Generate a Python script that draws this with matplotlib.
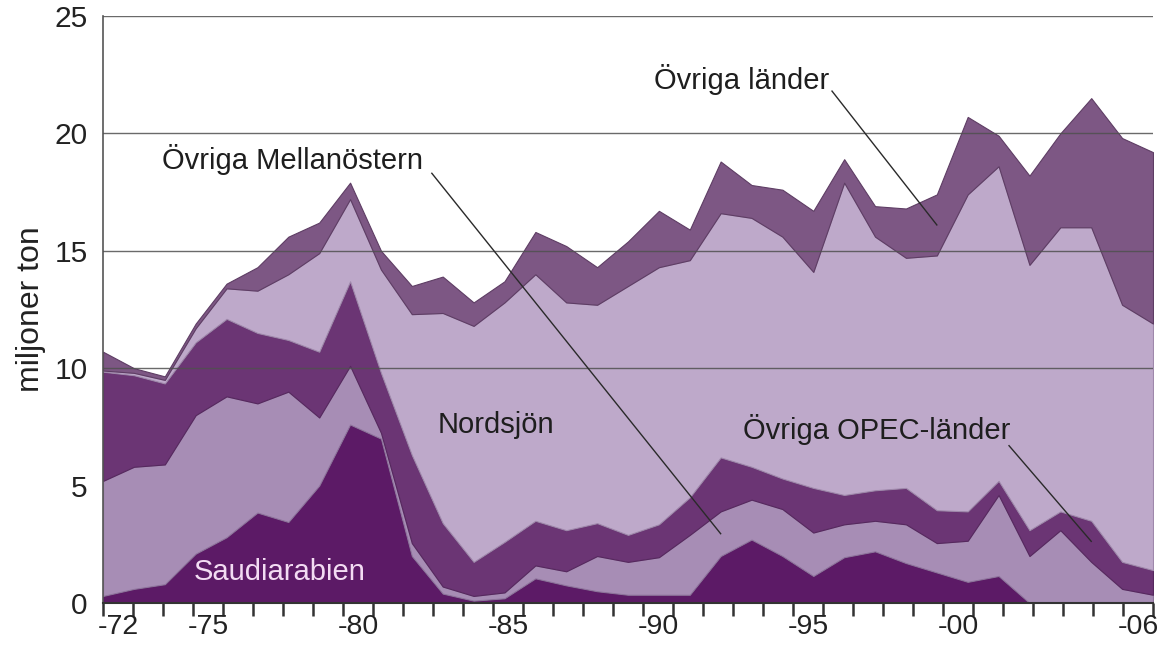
import numpy as np
import matplotlib
matplotlib.use("Agg")
import matplotlib.pyplot as plt

plt.rcParams['font.family'] = ['Liberation Sans', 'DejaVu Sans']

# Import av råolja per ursprung, miljoner ton
years = list(range(1972, 2007))
saudi = [0.3, 0.6, 0.8, 2.1, 2.8, 3.85, 3.45, 5.0, 7.6, 7.0,
         2.0, 0.4, 0.1, 0.2, 1.05, 0.75, 0.5, 0.35, 0.35, 0.35,
         2.0, 2.7, 2.0, 1.15, 1.95, 2.2, 1.7, 1.3, 0.9, 1.15,
         0.0, 0.0, 0.0, 0.0, 0.0]
mellanostern = [4.9, 5.2, 5.1, 5.9, 6.0, 4.65, 5.55, 2.9, 2.5, 0.25,
                0.55, 0.3, 0.2, 0.25, 0.55, 0.6, 1.5, 1.4, 1.6, 2.55,
                1.9, 1.7, 2.0, 1.85, 1.4, 1.3, 1.65, 1.25, 1.75, 3.45,
                2.0, 3.1, 1.75, 0.6, 0.35]
opec = [4.65, 3.9, 3.45, 3.1, 3.3, 3.0, 2.2, 2.8, 3.6, 2.55,
        3.75, 2.7, 1.45, 2.15, 1.9, 1.75, 1.4, 1.15, 1.4, 1.6,
        2.3, 1.4, 1.3, 1.9, 1.25, 1.3, 1.55, 1.4, 1.25, 0.6,
        1.1, 0.8, 1.75, 1.15, 1.05]
nordsjon = [0.05, 0.1, 0.15, 0.6, 1.3, 1.8, 2.8, 4.2, 3.5, 4.4,
            6.0, 8.95, 10.05, 10.2, 10.5, 9.7, 9.3, 10.6, 10.95, 10.1,
            10.4, 10.6, 10.3, 9.2, 13.3, 10.8, 9.8, 10.85, 13.5, 13.4,
            11.3, 12.1, 12.5, 10.95, 10.5]
ovriga = [0.8, 0.2, 0.15, 0.2, 0.2, 1.0, 1.6, 1.3, 0.7, 0.8,
          1.2, 1.55, 1.0, 0.9, 1.8, 2.4, 1.6, 1.9, 2.4, 1.3,
          2.2, 1.4, 2.0, 2.6, 1.0, 1.3, 2.1, 2.6, 3.3, 1.3,
          3.8, 4.0, 5.5, 7.1, 7.3]

series_names = ['Saudiarabien', 'Övriga Mellanöstern', 'Övriga OPEC-länder',
                'Nordsjön', 'Övriga länder']
colors = ['#5c1a66', '#a78db5', '#6b3574', '#bea9ca', '#7d5784']
edges = ['#4a1252', '#8e749c', '#56285e', '#9f88ab', '#5e3d64']

tick_years = [1972, 1975, 1980, 1985, 1990, 1995, 2000, 2006]
tick_labels = ['-72', '-75', '-80', '-85', '-90', '-95', '-00', '-06']

n = len(years)
# punkterna sprids över hela bredden, etiketterna centreras i varje årsfack
x = np.arange(n) * n / (n - 1)

fig = plt.figure(figsize=(11.63, 6.46), dpi=100)
ax = fig.add_axes([0.0886, 0.0666, 0.9028, 0.9087])

layers = [saudi, mellanostern, opec, nordsjon, ovriga]
polys = ax.stackplot(x, layers, colors=colors, labels=series_names, zorder=1)
for p, ec in zip(polys, edges):
    p.set_edgecolor(ec)
    p.set_linewidth(0.8)

ax.set_xlim(0, n)
ax.set_ylim(0, 25)

# y-axel
ax.set_yticks(np.arange(0, 26, 5))
ax.tick_params(axis='y', length=0, pad=11, labelsize=21.5, labelcolor='#222222')
ax.yaxis.grid(True, color='#505050', linewidth=1.0, alpha=0.85)
for gl, val in zip(ax.get_ygridlines(), np.arange(0, 26, 5)):
    if val < 10:
        gl.set_visible(False)
ax.set_axisbelow(False)
ax.set_ylabel('miljoner ton', fontsize=23, color='#222222', labelpad=6)

# x-axel: streck mellan åren, etiketter i mitten av varje år
ax.set_xticks(np.arange(n + 1))
ax.set_xticklabels([])
ax.tick_params(axis='x', which='major', direction='out', length=9.5,
               width=1.8, color='#333333')
ax.set_xticks([y - years[0] + 0.5 for y in tick_years], minor=True)
ax.set_xticklabels(tick_labels, minor=True)
ax.tick_params(axis='x', which='minor', length=0, pad=8, labelsize=20.5,
               labelcolor='#222222')

for side in ['top', 'right']:
    ax.spines[side].set_visible(False)
ax.spines['left'].set_color('#555555')
ax.spines['left'].set_linewidth(1.2)
ax.spines['bottom'].set_color('#333333')
ax.spines['bottom'].set_linewidth(1.5)

# serieetiketter med hänvisningslinjer
cum = np.cumsum(np.array(layers), axis=0)


def band_mid(layer, year):
    i = years.index(year)
    lower = cum[layer - 1][i] if layer > 0 else 0.0
    return x[i], (lower + cum[layer][i]) / 2


txt = dict(fontsize=21, color='#1e1e1e', ha='center', va='center')
ax.text(21.3, 22.3, 'Övriga länder', **txt)
ax.text(6.3, 18.9, 'Övriga Mellanöstern', **txt)
ax.text(13.1, 7.6, 'Nordsjön', **txt)
ax.text(25.8, 7.4, 'Övriga OPEC-länder', **txt)
ax.text(5.9, 1.3, 'Saudiarabien', fontsize=21, color='#f3dcf3',
        ha='center', va='center')

leaders = [((24.3, 21.8), band_mid(4, 1999)),
           ((10.96, 18.3), band_mid(1, 1992)),
           ((30.2, 6.7), band_mid(2, 2004))]
for (x0, y0), (x1, y1) in leaders:
    ax.plot([x0, x1], [y0, y1], color='#2a2a2a', linewidth=1.0, zorder=3)

fig.savefig('out.png', dpi=100)
